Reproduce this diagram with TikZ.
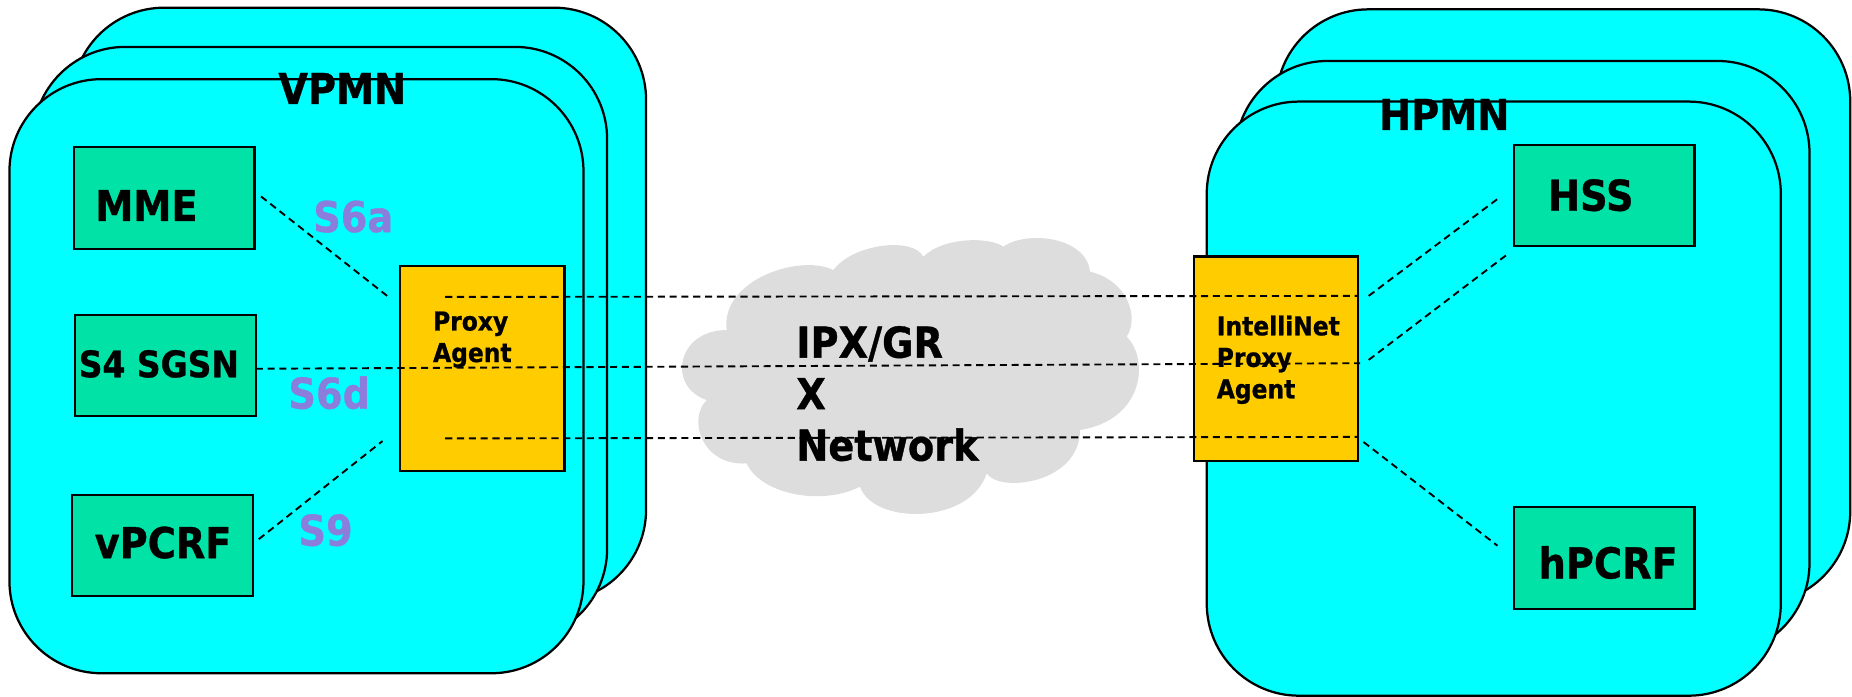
\documentclass[tikz,border=0pt]{standalone}
\usepackage{fontspec}
\setmainfont{DejaVu Sans}[FakeStretch=0.9, BoldFeatures={FakeBold=0.8}]
\usetikzlibrary{calc}
\definecolor{netcyan}{RGB}{0,255,255}
\definecolor{nodegreen}{RGB}{0,226,166}
\definecolor{proxyyellow}{RGB}{255,204,0}
\definecolor{cloudgray}{RGB}{221,221,221}
\definecolor{ifpurple}{RGB}{140,125,220}
\begin{document}
\begin{tikzpicture}[x=1pt,y=-1pt,
  netbox/.style={draw=black, line width=1.9pt, fill=netcyan, rounded corners=78pt,
    minimum width=486pt, minimum height=503pt, inner sep=0pt, outer sep=0pt},
  elem/.style={draw=black, line width=1.8pt, fill=nodegreen,
    minimum width=153pt, minimum height=86pt, inner sep=0pt, outer sep=0pt},
  proxybox/.style={draw=black, line width=1.8pt, fill=proxyyellow,
    minimum width=139pt, minimum height=173pt, inner sep=0pt, outer sep=0pt},
  bigtxt/.style={font=\fontsize{36}{43.6}\selectfont\bfseries, inner sep=0pt, anchor=base west, align=left},
  midtxt/.style={font=\fontsize{31}{37}\selectfont\bfseries, inner sep=0pt, anchor=base west},
  smalltxt/.style={font=\fontsize{22}{26.7}\selectfont\bfseries, inner sep=0pt, anchor=base west, align=left},
  iflabel/.style={bigtxt, text=ifpurple},
  link/.style={draw=black, line width=1.6pt, dash pattern=on 6pt off 4pt},
]
\useasboundingbox (0,0) rectangle (1568,590);

% visited network: stacked frames
\node[netbox] (vback)  at (304,258) {};
\node[netbox] (vmid)   at (271,291.2) {};
\node[netbox] (vfront) at (251,318.5) {};
\node[bigtxt] (vpmn) at (235.5,88) {VPMN};

% home network: stacked frames
\node[netbox] (hback)  at (1323.5,259.4) {};
\node[netbox] (hmid)   at (1289,303.1) {};
\node[netbox] (hfront) at (1264.7,337.5) {};
\node[bigtxt] (hpmn) at (1167.5,110) {HPMN};

% roaming exchange cloud
\begin{scope}[shift={(558.8,186.3)}, scale=0.2822]
  \fill[cloudgray] (200,330)
    .. controls (180,180) and (420,100) .. (520,150)
    .. controls (580,70) and (760,50) .. (790,110)
    .. controls (850,50) and (990,50) .. (1030,80)
    .. controls (1100,30) and (1280,50) .. (1290,155)
    .. controls (1400,180) and (1440,290) .. (1400,350)
    .. controls (1470,420) and (1450,600) .. (1260,630)
    .. controls (1260,790) and (1020,820) .. (980,760)
    .. controls (930,915) and (640,915) .. (600,800)
    .. controls (480,860) and (300,820) .. (260,730)
    .. controls (130,740) and (80,600) .. (140,540)
    .. controls (20,500) and (50,330) .. (200,330) -- cycle;
\end{scope}
% multi-line nodes are placed by the baseline of their last line
\node[bigtxt] (ipx) at (674,390) {IPX/GR\\X\\Network};

% visited network elements
\node[elem] (mme)  at (139,167.6) {};
\node[bigtxt] (mmet) at (80.5,187.1) {MME};
\node[elem] (sgsn) at (140,309.4) {};
\node[midtxt] (sgsnt) at (66.5,319.4) {S4 SGSN};
\node[elem] (vpcrf) at (137.6,461.9) {};
\node[bigtxt] (vpcrft) at (80,472.5) {vPCRF};
\node[proxybox] (pL) at (408.4,311.9) {};
\node[smalltxt] (pLt) at (366.5,306.5) {Proxy\\Agent};

% home network elements
\node[elem] (hss) at (1358.1,165.6) {};
\node[bigtxt] (hsst) at (1310.5,178.4) {HSS};
\node[elem] (hpcrf) at (1358.1,472.5) {};
\node[bigtxt] (hpcrft) at (1302.5,489.7) {hPCRF};
\node[proxybox] (pR) at (1080.5,303.7) {};
\node[smalltxt] (pRt) at (1030,337.3) {IntelliNet\\Proxy\\Agent};

% interface labels
\node[iflabel] (s6a) at (265,196.5) {S6a};
\node[iflabel] (s6d) at (244,346) {S6d};
\node[iflabel] (s9)  at (252.5,462) {S9};

% diameter links
\draw[link] ($(mme.east)+(5.5,-1.3)$) -- ($(pL.north west)+(-10,26)$);
\draw[link] ($(vpcrf.east)+(5,-5.4)$) -- ($(pL.south west)+(-15,-25)$);
\draw[link] ($(pL.north west)+(38,26)$) -- ($(pR.north east)+(0,33.3)$);
\draw[link] ($(sgsn.east)+(0,2.8)$) -- ($(pR.north east)+(1.6,90.3)$);
\draw[link] ($(pL.south west)+(38,-27.2)$) -- ($(pR.south east)+(0,-20.3)$);
\draw[link] ($(pR.north east)+(8.8,33.3)$) -- ($(hss.west)+(-13,2.3)$);
\draw[link] ($(pR.north east)+(8.8,87.5)$) -- ($(hss.south west)+(-4.7,6.2)$);
\draw[link] ($(pR.south east)+(4.4,-16)$) -- ($(hpcrf.west)+(-13.8,-10.5)$);
\end{tikzpicture}
\end{document}
